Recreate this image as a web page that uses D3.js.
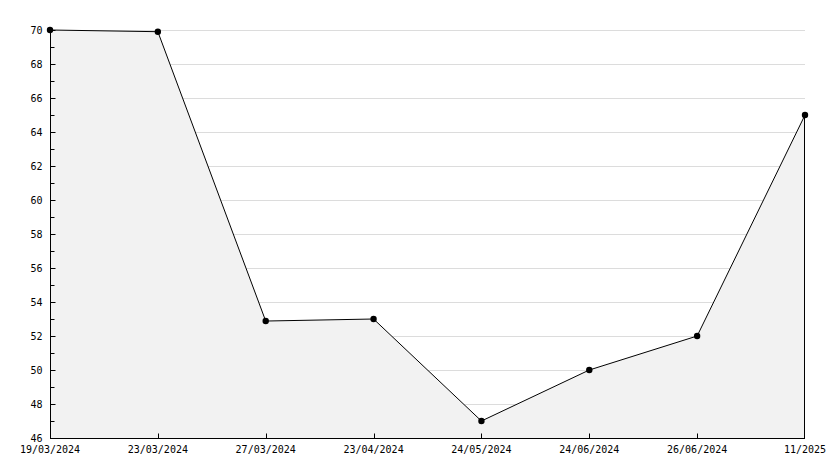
<!DOCTYPE html>
<html>
<head>
<meta charset="utf-8">
<script src="https://cdn.jsdelivr.net/npm/d3@7"></script>
<style>
  body { margin: 0; background: #fff; }
  text { font-family: "DejaVu Sans Mono", monospace; font-size: 10px; fill: #000; }
</style>
</head>
<body>
<svg id="chart" width="834" height="468"></svg>
<script>
// data
var fechas = ["19/03/2024", "23/03/2024", "27/03/2024", "23/04/2024", "24/05/2024", "24/06/2024", "26/06/2024", "11/2025"];
var valores = [70, 69.9, 52.88, 53, 47, 50, 52, 65];
var yMajor = [46, 48, 50, 52, 54, 56, 58, 60, 62, 64, 66, 68, 70];
var yMinor = [47, 49, 51, 53, 55, 57, 59, 61, 63, 65, 67, 69];

var svg = d3.select("#chart"),
    width = +svg.attr("width"),
    height = +svg.attr("height"),
    m = { top: 30, right: 29, bottom: 30, left: 50 };

var x = d3.scalePoint()
    .domain(fechas)
    .range([m.left, width - m.right]);

var y = d3.scaleLinear()
    .domain([46, 70])
    .range([height - m.bottom, m.top]);

var datos = fechas.map(function (f, i) { return { f: f, v: valores[i] }; });

// grid
svg.append("g")
    .selectAll("line")
    .data(yMajor.slice(1))
    .enter().append("line")
    .attr("x1", m.left).attr("x2", width - m.right)
    .attr("y1", function (d) { return Math.round(y(d)) + 0.5; })
    .attr("y2", function (d) { return Math.round(y(d)) + 0.5; })
    .attr("stroke", "#dcdcdc")
    .attr("shape-rendering", "crispEdges");

// area
var area = d3.area()
    .x(function (d) { return x(d.f); })
    .y0(y(46))
    .y1(function (d) { return y(d.v); });

svg.append("path")
    .datum(datos)
    .attr("d", area)
    .attr("fill", "#f2f2f2");

// right edge of the area
svg.append("line")
    .attr("x1", x(fechas[fechas.length - 1]) - 0.5).attr("x2", x(fechas[fechas.length - 1]) - 0.5)
    .attr("y1", y(valores[valores.length - 1])).attr("y2", y(46))
    .attr("stroke", "#000")
    .attr("shape-rendering", "crispEdges");

// y axis
var yAxis = svg.append("g")
    .attr("transform", "translate(" + (m.left + 0.5) + ",0.5)");

yAxis.append("line")
    .attr("x1", 0).attr("x2", 0)
    .attr("y1", y(70)).attr("y2", y(46))
    .attr("stroke", "#000");

yAxis.selectAll(".maj")
    .data(yMajor)
    .enter().append("line")
    .attr("x1", 0).attr("x2", 5)
    .attr("y1", function (d) { return Math.round(y(d)); })
    .attr("y2", function (d) { return Math.round(y(d)); })
    .attr("stroke", "#000");

yAxis.selectAll(".min")
    .data(yMinor)
    .enter().append("line")
    .attr("x1", 0).attr("x2", 4)
    .attr("y1", function (d) { return Math.round(y(d)); })
    .attr("y2", function (d) { return Math.round(y(d)); })
    .attr("stroke", "#000");

yAxis.selectAll("text")
    .data(yMajor)
    .enter().append("text")
    .attr("x", -8)
    .attr("y", function (d) { return y(d); })
    .attr("dy", "0.35em")
    .attr("text-anchor", "end")
    .text(function (d) { return d; });

// x axis
var xAxis = svg.append("g")
    .attr("transform", "translate(0," + (y(46) + 0.5) + ")");

xAxis.append("line")
    .attr("x1", m.left).attr("x2", width - m.right)
    .attr("y1", 0).attr("y2", 0)
    .attr("stroke", "#000");

xAxis.selectAll(".tick")
    .data(fechas.slice(1, -1))
    .enter().append("line")
    .attr("x1", function (d) { return Math.round(x(d)) + 0.5; })
    .attr("x2", function (d) { return Math.round(x(d)) + 0.5; })
    .attr("y1", 0).attr("y2", -5)
    .attr("stroke", "#000");

xAxis.selectAll("text")
    .data(fechas)
    .enter().append("text")
    .attr("x", function (d) { return x(d); })
    .attr("y", 11)
    .attr("dy", "0.35em")
    .attr("text-anchor", "middle")
    .text(function (d) { return d; });

// line
var linea = d3.line()
    .x(function (d) { return x(d.f); })
    .y(function (d) { return y(d.v); });

svg.append("path")
    .datum(datos)
    .attr("d", linea)
    .attr("fill", "none")
    .attr("stroke", "#000")
    .attr("stroke-width", 1);

svg.selectAll(".punto")
    .data(datos)
    .enter().append("circle")
    .attr("cx", function (d) { return x(d.f); })
    .attr("cy", function (d) { return y(d.v); })
    .attr("r", 3.2)
    .attr("fill", "#000");
</script>
</body>
</html>
